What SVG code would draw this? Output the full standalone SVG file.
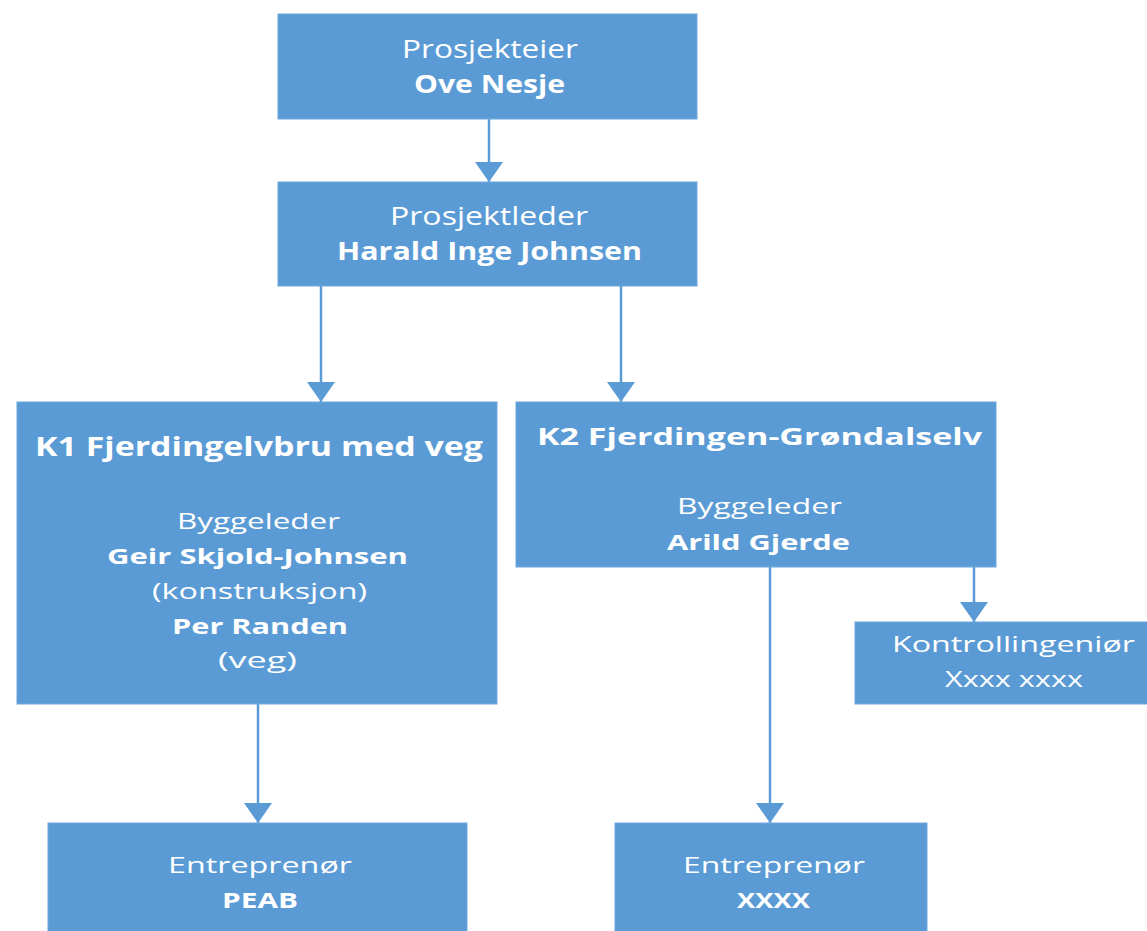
<svg xmlns="http://www.w3.org/2000/svg" width="1147" height="931" viewBox="0 0 1147 931">
<style>
.box{fill:#5B9BD5;stroke:#6FA8DC;stroke-width:1}
.t{font-family:"Open Sans","Liberation Sans",sans-serif;fill:#FFFFFF;text-anchor:middle}
.b{font-weight:bold}
.conn{stroke:#5B9BD5;stroke-width:2.5;fill:none;marker-end:url(#arr)}
</style>
<defs>
<marker id="arr" viewBox="0 0 20 28" refX="20" refY="14" markerWidth="20" markerHeight="28" markerUnits="userSpaceOnUse" orient="auto">
<path d="M0,0 L20,14 L0,28 Z" fill="#5B9BD5"/>
</marker>
</defs>
<rect width="1147" height="931" fill="#FFFFFF"/>
<g id="connectors">
<line class="conn" x1="489" y1="119" x2="489" y2="182"/>
<line class="conn" x1="321" y1="286" x2="321" y2="402"/>
<line class="conn" x1="621" y1="286" x2="621" y2="402"/>
<line class="conn" x1="258" y1="704" x2="258" y2="823"/>
<line class="conn" x1="770" y1="567" x2="770" y2="823"/>
<line class="conn" x1="974" y1="567" x2="974" y2="622"/>
</g>
<g id="prosjekteier">
<rect class="box" x="278" y="14" width="419" height="105"/>
<text class="t" x="490" y="58" font-size="25" textLength="176" lengthAdjust="spacingAndGlyphs">Prosjekteier</text>
<text class="t b" x="489.5" y="93" font-size="25" textLength="151" lengthAdjust="spacingAndGlyphs">Ove Nesje</text>
</g>
<g id="prosjektleder">
<rect class="box" x="278" y="182" width="419" height="104"/>
<text class="t" x="489" y="225" font-size="25" textLength="198" lengthAdjust="spacingAndGlyphs">Prosjektleder</text>
<text class="t b" x="489.5" y="260" font-size="25" textLength="305" lengthAdjust="spacingAndGlyphs">Harald Inge Johnsen</text>
</g>
<g id="k1">
<rect class="box" x="17" y="402" width="480" height="302"/>
<text class="t b" x="259" y="456" font-size="27" textLength="448" lengthAdjust="spacingAndGlyphs">K1 Fjerdingelvbru med veg</text>
<text class="t" x="258.5" y="529" font-size="21" textLength="163" lengthAdjust="spacingAndGlyphs">Byggeleder</text>
<text class="t b" x="257.5" y="564" font-size="21" textLength="301" lengthAdjust="spacingAndGlyphs">Geir Skjold-Johnsen</text>
<text class="t" x="259.5" y="599" font-size="21" textLength="215" lengthAdjust="spacingAndGlyphs">(konstruksjon)</text>
<text class="t b" x="260" y="634" font-size="21" textLength="176" lengthAdjust="spacingAndGlyphs">Per Randen</text>
<text class="t" x="257.5" y="668" font-size="21" textLength="79" lengthAdjust="spacingAndGlyphs">(veg)</text>
</g>
<g id="k2">
<rect class="box" x="516" y="402" width="480" height="165"/>
<text class="t b" x="759.5" y="445" font-size="24" textLength="445" lengthAdjust="spacingAndGlyphs">K2 Fjerdingen-Grøndalselv</text>
<text class="t" x="759.5" y="514" font-size="21" textLength="165" lengthAdjust="spacingAndGlyphs">Byggeleder</text>
<text class="t b" x="758.5" y="550" font-size="21" textLength="183" lengthAdjust="spacingAndGlyphs">Arild Gjerde</text>
</g>
<g id="kontrollingenior">
<rect class="box" x="855" y="622" width="300" height="82"/>
<text class="t" x="1013.5" y="652" font-size="21" textLength="243" lengthAdjust="spacingAndGlyphs">Kontrollingeniør</text>
<text class="t" x="1014" y="687" font-size="21" textLength="138" lengthAdjust="spacingAndGlyphs">Xxxx xxxx</text>
</g>
<g id="entreprenor-peab">
<rect class="box" x="48" y="823" width="419" height="115"/>
<text class="t" x="260" y="873" font-size="22" textLength="184" lengthAdjust="spacingAndGlyphs">Entreprenør</text>
<text class="t b" x="260" y="908" font-size="22" textLength="76" lengthAdjust="spacingAndGlyphs">PEAB</text>
</g>
<g id="entreprenor-xxxx">
<rect class="box" x="615" y="823" width="312" height="115"/>
<text class="t" x="774" y="873" font-size="22" textLength="182" lengthAdjust="spacingAndGlyphs">Entreprenør</text>
<text class="t b" x="773.5" y="908" font-size="22" textLength="73" lengthAdjust="spacingAndGlyphs">XXXX</text>
</g>
</svg>
